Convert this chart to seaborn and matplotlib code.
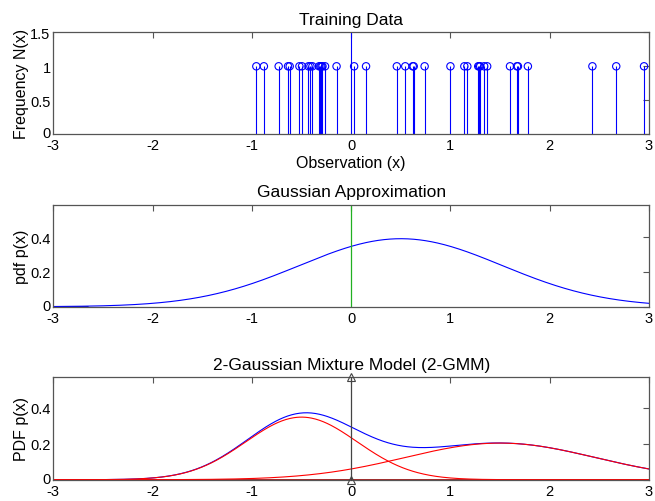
import numpy as np
import pandas as pd
import matplotlib
matplotlib.use("Agg")
import matplotlib.pyplot as plt
import matplotlib.transforms as mtransforms
import seaborn as sns

# ---- data ----
observations = [-0.955, -0.879, -0.730, -0.636, -0.619, -0.521, -0.495, -0.430,
                -0.410, -0.390, -0.323, -0.309, -0.299, -0.289, -0.263, -0.147,
                0.03, 0.15, 0.46, 0.545, 0.62, 0.63, 0.74, 1.00, 1.14, 1.17,
                1.28, 1.29, 1.30, 1.34, 1.37, 1.60, 1.67, 1.68, 1.78, 2.43,
                2.67, 2.95]
counts = [1] * len(observations)

gauss_mu = 0.5
gauss_sigma = 1.02

gmm_weights = [0.49, 0.49]
gmm_means = [-0.5, 1.5]
gmm_sigmas = [0.56, 0.957]

x_ticks = [-3, -2, -1, 0, 1, 2, 3]
top_yticks = [0, 0.5, 1, 1.5]
top_ylabels = ["0", "0.5", "1", "1.5"]
pdf_yticks = [0, 0.2, 0.4]
pdf_ylabels = ["0", "0.2", "0.4"]

titles = ["Training Data", "Gaussian Approximation", "2-Gaussian Mixture Model (2-GMM)"]
ylabels = ["Frequency N(x)", "pdf p(x)", "PDF p(x)"]
xlabel_top = "Observation (x)"

# ---- style ----
sns.set_theme(style="white")
plt.rcParams["font.family"] = ["Liberation Sans", "DejaVu Sans"]
plt.rcParams["axes.edgecolor"] = "#555555"
plt.rcParams["axes.linewidth"] = 0.9

def npdf(x, m, s):
    return np.exp(-0.5 * ((x - m) / s) ** 2) / (s * np.sqrt(2 * np.pi))

xs = np.linspace(-3, 3, 601)

W, H = 655, 502
fig = plt.figure(figsize=(W / 100, H / 100), dpi=100)

def box(top, bottom, left=53.3, right=649):
    return [left / W, (H - bottom) / H, (right - left) / W, (bottom - top) / H]

ax1 = fig.add_axes(box(33.3, 135.3))
ax2 = fig.add_axes(box(205.7, 307.7))
ax3 = fig.add_axes(box(378.3, 480.7))

lift = mtransforms.ScaledTranslation(0, 2.5 / 100, fig.dpi_scale_trans)

def style(ax, yt, yl, title, ylabel):
    ax.set_xlim(-3, 3)
    ax.set_xticks(x_ticks)
    ax.set_xticklabels([str(t) for t in x_ticks])
    ax.set_yticks(yt)
    ax.set_yticklabels(yl)
    ax.tick_params(direction="in", length=4, width=0.8, color="#555555",
                   top=True, right=True, labelsize=10.5)
    ax.tick_params(axis="x", pad=3)
    ax.tick_params(axis="y", pad=2)
    ax.set_title(title, fontsize=12.5, pad=6, color="black")
    ax.set_ylabel(ylabel, fontsize=11.5, labelpad=1, color="black")
    for lab in ax.get_xticklabels() + ax.get_yticklabels():
        lab.set_color("black")
    # lift the y "0" label a little, as in the reference
    lab0 = ax.get_yticklabels()[0]
    lab0.set_transform(lab0.get_transform() + lift)

# ---- panel 1: stems ----
df_obs = pd.DataFrame({"x": observations, "n": counts})
ax1.vlines(df_obs["x"], 0, df_obs["n"], color="#0000ff", lw=0.8)
sns.scatterplot(data=df_obs, x="x", y="n", ax=ax1, marker="o", s=28,
                facecolor="none", edgecolor="#0000ff", linewidth=0.8, legend=False)
ax1.axvline(0, color="#0000ff", lw=0.8)
ax1.set_ylim(0, 1.5)
style(ax1, top_yticks, top_ylabels, titles[0], ylabels[0])
ax1.set_xlabel(xlabel_top, fontsize=11.5, labelpad=2, color="black")

# ---- panel 2: single gaussian ----
df_g = pd.DataFrame({"x": xs, "p": npdf(xs, gauss_mu, gauss_sigma)})
ax2.plot([-3, -2.65], [0, 0], color="#000080", lw=1.2)
sns.lineplot(data=df_g, x="x", y="p", ax=ax2, color="#0000ff", lw=0.8)
peak2 = df_g["p"].max()
ax2.set_ylim(0, 1.5 * peak2)
ax2.axvline(0, color="#22b022", lw=0.9)
style(ax2, pdf_yticks, pdf_ylabels, titles[1], ylabels[1])
ax2.set_xlabel("")

# ---- panel 3: GMM ----
c1 = gmm_weights[0] * npdf(xs, gmm_means[0], gmm_sigmas[0])
c2 = gmm_weights[1] * npdf(xs, gmm_means[1], gmm_sigmas[1])
df_m = pd.DataFrame({"x": xs, "c1": c1, "c2": c2, "mix": c1 + c2})
ax3.axhline(0, color="#990000", lw=1.2)
sns.lineplot(data=df_m, x="x", y="mix", ax=ax3, color="#0000ff", lw=0.8)
sns.lineplot(data=df_m, x="x", y="c1", ax=ax3, color="#ff0000", lw=0.8)
sns.lineplot(data=df_m, x="x", y="c2", ax=ax3, color="#ff0000", lw=0.8)
top3 = 1.53 * df_m["mix"].max()
ax3.set_ylim(0, top3)
ax3.plot([0, 0], [0, top3], color="#444444", lw=0.9, marker="^", ms=6,
         mfc="none", mec="#444444", mew=0.8, clip_on=False, zorder=5)
style(ax3, pdf_yticks, pdf_ylabels, titles[2], ylabels[2])
ax3.set_xlabel("")

fig.savefig("out.png", dpi=100)
